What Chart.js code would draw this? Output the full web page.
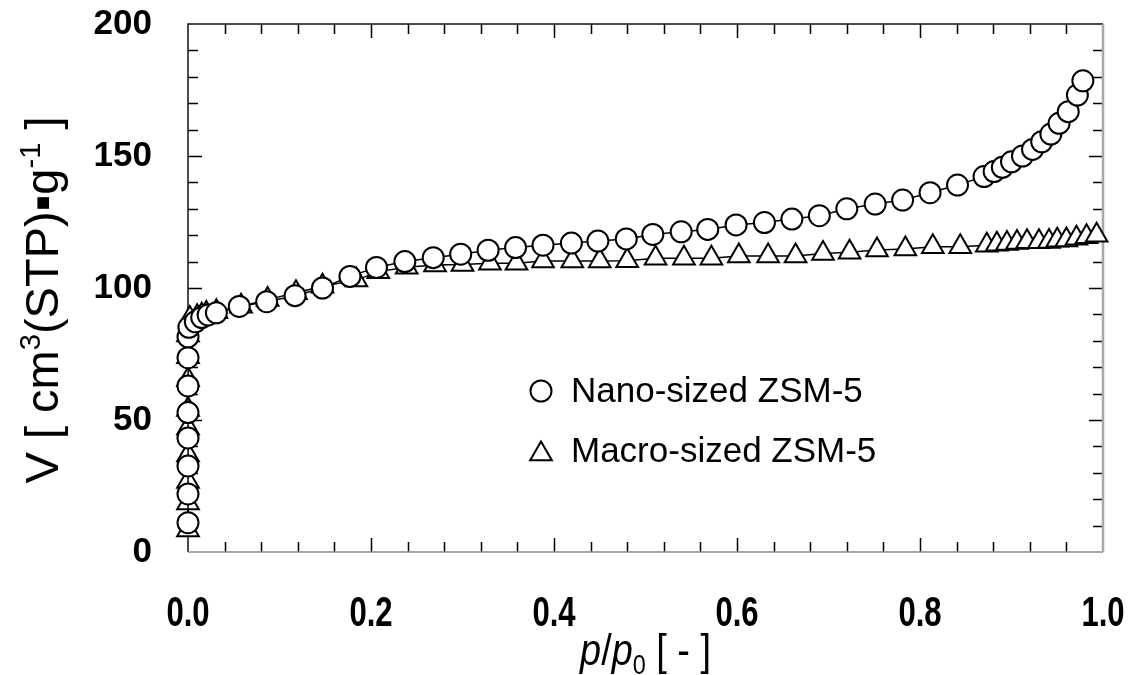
<!DOCTYPE html>
<html>
<head>
<meta charset="utf-8">
<script src="https://cdn.jsdelivr.net/npm/chart.js"></script>
<style>
  html, body { margin: 0; padding: 0; background: #fff; }
  #wrap { width: 1133px; height: 675px; position: relative; }
</style>
</head>
<body>
<div id="wrap"><canvas id="c" width="1133" height="675"></canvas></div>
<script>
// ---- data ----
const nanoLabel = 'Nano-sized ZSM-5';
const macroLabel = 'Macro-sized ZSM-5';

const nanoX = [0, 0, 0, 0, 0, 0, 0, 0, 0.001, 0.008, 0.015, 0.022, 0.031,
  0.056, 0.086, 0.117, 0.147, 0.177, 0.206, 0.237, 0.268, 0.298, 0.328,
  0.358, 0.388, 0.419, 0.448, 0.479, 0.508, 0.539, 0.568, 0.599, 0.630,
  0.660, 0.690, 0.720, 0.751, 0.781, 0.811, 0.841, 0.870, 0.881, 0.890,
  0.900, 0.912, 0.923, 0.933, 0.943, 0.952, 0.962, 0.972, 0.978];
const nanoY = [11.1, 22.0, 32.6, 43.2, 52.8, 62.9, 73.6, 81.5, 85.1, 87.2, 88.8, 89.8, 90.6,
  93.0, 94.8, 97.1, 100.0, 104.4, 107.8, 110.0, 111.5, 112.8, 114.3,
  115.3, 116.2, 117.0, 117.8, 118.6, 120.3, 121.3, 122.2, 123.9, 124.8,
  126.1, 127.4, 130.0, 131.8, 133.3, 136.1, 139.0, 142.2, 144.1, 145.7,
  147.8, 150.0, 152.5, 155.4, 158.3, 162.4, 166.8, 173.1, 178.5];

const macroX = [0, 0, 0, 0, 0, 0, 0, 0, 0, 0.002, 0.010, 0.015, 0.020, 0.031,
  0.058, 0.087, 0.118, 0.147, 0.184, 0.208, 0.239, 0.270, 0.300, 0.330,
  0.359, 0.388, 0.420, 0.450, 0.480, 0.511, 0.542, 0.572, 0.602, 0.634,
  0.664, 0.694, 0.723, 0.753, 0.784, 0.814, 0.844, 0.873, 0.884, 0.895,
  0.906, 0.917, 0.930, 0.941, 0.950, 0.960, 0.971, 0.982, 0.993];
const macroY = [8.3, 18.6, 26.7, 36.7, 47.0, 54.0, 65.2, 74.0, 82.2, 88.4, 89.1, 89.7, 90.3, 91.0,
  93.1, 95.6, 98.2, 100.7, 103.0, 106.2, 107.9, 108.7, 108.9, 109.4,
  109.4, 110.2, 110.2, 110.2, 110.3, 111.3, 111.3, 111.3, 112.1, 112.1,
  112.1, 113.1, 113.5, 114.4, 114.8, 115.6, 115.6, 116.2, 116.6, 116.9,
  117.2, 117.5, 117.5, 117.6, 118.1, 118.2, 118.8, 119.4, 120.0];

const xTickValues = [0, 0.2, 0.4, 0.6, 0.8, 1.0];
const xTickLabels = ['0.0', '0.2', '0.4', '0.6', '0.8', '1.0'];
const yTickLabels = ['0', '50', '100', '150', '200'];
const xTitleParts = [
  { t: 'p', it: true }, { t: '/', it: false }, { t: 'p', it: true },
  { t: '0', sub: true }, { t: ' [ - ]', it: false }
];
const yTitleParts = [
  { t: 'V [ cm' }, { t: '3', sup: true }, { t: '(STP)' }, { t: '\u25AA' },
  { t: 'g' }, { t: '-1', sup: true }, { t: ' ]' }
];

// ---- styling constants ----
const X_MIN = 0, X_MAX = 1, X_MAJOR = 0.2, X_MINOR = 0.04;
const Y_MIN = 0, Y_MAX = 200, Y_MAJOR = 50, Y_MINOR = 10;
const MAIN_FONT = "'Liberation Sans', Arial, sans-serif";

function toPoints(xs, ys) { return xs.map((x, i) => ({ x: x, y: ys[i] })); }

function drawRuns(ctx, parts, size, family, cx, baseY, sx, weight) {
  sx = sx || 1;
  weight = weight || 'normal';
  const items = parts.map(p => {
    const fs = (p.sup || p.sub) ? size * 0.62 : size;
    const font = (p.it ? 'italic ' : '') + weight + ' ' + fs + 'px ' + family;
    ctx.font = font;
    return { p, font, w: ctx.measureText(p.t).width, dy: p.sup ? -size * 0.38 : (p.sub ? size * 0.2 : 0) };
  });
  const total = items.reduce((s, it) => s + it.w, 0);
  ctx.save();
  ctx.translate(cx, baseY);
  ctx.scale(sx, 1);
  let x = -total / 2;
  ctx.textAlign = 'left';
  ctx.textBaseline = 'alphabetic';
  for (const it of items) {
    ctx.font = it.font;
    ctx.fillText(it.p.t, x, it.dy);
    x += it.w;
  }
  ctx.restore();
}

const framePlugin = {
  id: 'frameTicks',
  beforeDatasetsDraw(chart) {
    const { ctx, chartArea: a, scales } = chart;
    const xs = scales.x, ys = scales.y;
    ctx.save();
    ctx.strokeStyle = '#000';
    ctx.lineWidth = 1.5;
    ctx.beginPath();
    const nx = Math.round((X_MAX - X_MIN) / X_MINOR);
    for (let i = 1; i < nx; i++) {
      const v = X_MIN + i * X_MINOR;
      const major = Math.abs(v / X_MAJOR - Math.round(v / X_MAJOR)) < 1e-6;
      const L = major ? 14 : 10;
      const px = Math.round(xs.getPixelForValue(v)) + 0.5;
      ctx.moveTo(px, a.bottom); ctx.lineTo(px, a.bottom - L);
      ctx.moveTo(px, a.top); ctx.lineTo(px, a.top + L);
    }
    const ny = Math.round((Y_MAX - Y_MIN) / Y_MINOR);
    for (let i = 1; i < ny; i++) {
      const v = Y_MIN + i * Y_MINOR;
      const major = v % Y_MAJOR === 0;
      const L = major ? 14 : 10;
      const py = Math.round(ys.getPixelForValue(v)) + 0.5;
      ctx.moveTo(a.left, py); ctx.lineTo(a.left + L, py);
      ctx.moveTo(a.right, py); ctx.lineTo(a.right - L, py);
    }
    ctx.stroke();
    // frame: top & left dark, right & bottom grey
    ctx.lineWidth = 1.5;
    ctx.strokeStyle = '#111';
    ctx.beginPath();
    ctx.moveTo(a.left, a.bottom); ctx.lineTo(a.left, a.top); ctx.lineTo(a.right, a.top);
    ctx.stroke();
    ctx.strokeStyle = '#8a8a8a';
    ctx.beginPath();
    ctx.moveTo(a.left, a.bottom); ctx.lineTo(a.right, a.bottom);
    ctx.stroke();
    ctx.strokeStyle = '#a8a8a8';
    ctx.lineWidth = 2.5;
    ctx.beginPath();
    ctx.moveTo(a.right, a.top); ctx.lineTo(a.right, a.bottom);
    ctx.stroke();
    ctx.restore();
  },
  afterDraw(chart) {
    const { ctx, chartArea: a, scales } = chart;
    ctx.save();
    ctx.fillStyle = '#000';
    // x tick labels (condensed, positioned by the x scale)
    xTickValues.forEach((v, i) => {
      const px = scales.x.getPixelForValue(v);
      drawRuns(ctx, [{ t: xTickLabels[i] }], 42, MAIN_FONT, px, 626, 0.74, 'bold');
    });
    // x title
    drawRuns(ctx, xTitleParts, 44, MAIN_FONT, (a.left + a.right) / 2, 665, 0.86);
    // y title (rotated)
    ctx.translate(58, (a.top + a.bottom) / 2 + 12);
    ctx.rotate(-Math.PI / 2);
    drawRuns(ctx, yTitleParts, 47, MAIN_FONT, 0, 0, 1);
    ctx.restore();

    // legend
    ctx.save();
    const ds = chart.data.datasets;
    const lx = 541, ly = [391, 451];
    ds.forEach((d, i) => {
      ctx.lineWidth = 2;
      ctx.strokeStyle = '#000';
      ctx.fillStyle = '#fff';
      ctx.beginPath();
      if (d.pointStyle === 'circle') {
        ctx.arc(lx, ly[i], 10.5, 0, Math.PI * 2);
      } else {
        const r = 12.5;
        for (let k = 0; k < 3; k++) {
          const ang = k * 2 * Math.PI / 3;
          const px = lx + Math.sin(ang) * r, py = ly[i] + 3 - Math.cos(ang) * r;
          if (k === 0) ctx.moveTo(px, py); else ctx.lineTo(px, py);
        }
        ctx.closePath();
      }
      ctx.fill(); ctx.stroke();
      ctx.fillStyle = '#000';
      ctx.font = '35px ' + MAIN_FONT;
      ctx.textAlign = 'left';
      ctx.textBaseline = 'middle';
      ctx.fillText(d.label, 571, ly[i] + 1);
    });
    ctx.restore();
  }
};

const chart = new Chart(document.getElementById('c'), {
  type: 'scatter',
  data: {
    datasets: [
      {
        label: nanoLabel,
        data: toPoints(nanoX, nanoY),
        showLine: true,
        borderColor: '#000',
        borderWidth: 1.5,
        tension: 0,
        pointStyle: 'circle',
        pointRadius: 10.5,
        pointHoverRadius: 10.5,
        pointBorderWidth: 2,
        pointBackgroundColor: '#fff',
        pointBorderColor: '#000',
        clip: false
      },
      {
        label: macroLabel,
        data: toPoints(macroX, macroY),
        showLine: true,
        borderColor: '#000',
        borderWidth: 1.5,
        tension: 0,
        pointStyle: 'triangle',
        pointRadius: 12.5,
        pointHoverRadius: 12.5,
        pointBorderWidth: 2,
        pointBackgroundColor: '#fff',
        pointBorderColor: '#000',
        clip: false
      }
    ]
  },
  options: {
    responsive: false,
    animation: false,
    devicePixelRatio: 1,
    events: [],
    layout: { autoPadding: false, padding: { left: 0, top: 24, right: 30, bottom: 0 } },
    plugins: { legend: { display: false }, tooltip: { enabled: false } },
    scales: {
      x: {
        type: 'linear', min: X_MIN, max: X_MAX,
        grid: { display: false, drawTicks: false },
        border: { display: false },
        afterFit(s) { s.height = 123; s.paddingLeft = 0; s.paddingRight = 0; },
        ticks: { display: false, stepSize: X_MAJOR }
      },
      y: {
        type: 'linear', min: Y_MIN, max: Y_MAX,
        grid: { display: false, drawTicks: false },
        border: { display: false },
        afterFit(s) { s.width = 188; s.paddingTop = 0; s.paddingBottom = 0; },
        ticks: {
          stepSize: Y_MAJOR,
          padding: 36,
          color: '#000',
          font: { family: MAIN_FONT, size: 35, weight: 'bold' },
          callback: (v) => {
            const i = Math.round(v / Y_MAJOR);
            return yTickLabels[i] !== undefined ? yTickLabels[i] : '';
          }
        }
      }
    }
  },
  plugins: [framePlugin]
});
</script>
</body>
</html>
